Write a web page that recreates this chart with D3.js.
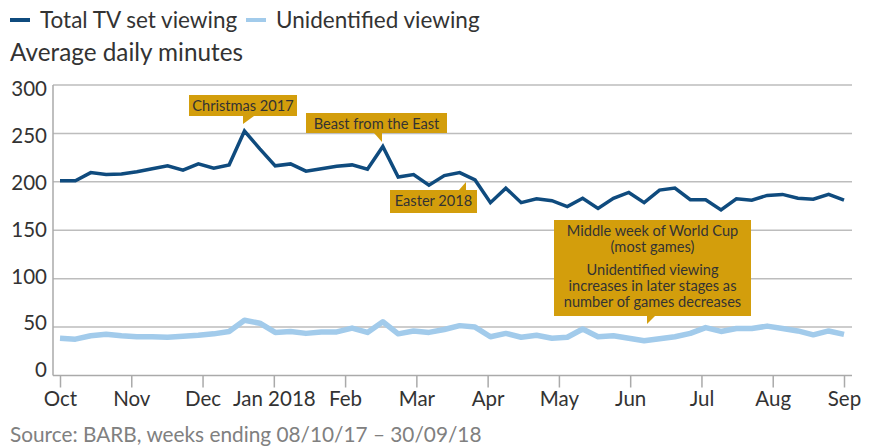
<!DOCTYPE html>
<html>
<head>
<meta charset="utf-8">
<script src="https://cdn.jsdelivr.net/npm/d3@7"></script>
<style>
    body { margin: 0; background: white; }
    text { font-family: "Source Sans Pro", Lato, "Noto Sans", sans-serif; fill: #333; }
</style>
</head>
<body>
<script>
(function () {

    // weekly averages, weeks ending 08/10/17 - 30/09/18
    let totalViewing = [201, 201, 209.5, 207.5, 208, 210.5, 213.5, 216.5, 212, 218.5, 214, 217.5,
        252.5, 234, 216.5, 218.5, 211, 213.5, 216, 217.5, 213, 236.5, 205, 207.5, 196.5, 206.5,
        209.5, 202, 178.5, 193.5, 178.5, 182.5, 180.5, 174.5, 183, 172.5, 183, 189, 178.5, 191.5,
        193.5, 181.5, 181.5, 171, 182.5, 181, 186, 187, 183, 182, 187, 181];
    let unidentifiedViewing = [38.5, 37.5, 41, 42.5, 41, 40, 40, 39.5, 40.5, 41.5, 43, 45.5,
        57, 54, 44.5, 45.5, 43.5, 45, 45, 49, 44.5, 55.5, 43, 46, 44.5, 47.5, 51.5, 50, 40, 43.5,
        39.5, 41.5, 38.5, 39.5, 48, 40, 41, 38.5, 35.8, 38, 40, 43.5, 49.5, 45.5, 48.5, 48.5, 51,
        48.5, 46, 42, 46, 42.5];
    let monthLabels = ["Oct", "Nov", "Dec", "Jan 2018", "Feb", "Mar", "Apr", "May", "Jun", "Jul", "Aug", "Sep"];
    let yTicks = [0, 50, 100, 150, 200, 250, 300];
    let noteTexts = [["Christmas 2017"], ["Beast from the East"], ["Easter 2018"],
        ["Middle week of World Cup", "(most games)", "", "Unidentified viewing", "increases in later stages as", "number of games decreases"]];

    let darkBlue = "#0f4b7e";
    let lightBlue = "#a2cbeb";
    let gold = "#d39e0c";

    let svg = d3.select("body").append("svg")
        .attr("width", 876)
        .attr("height", 448);

    let xScale = d3.scaleLinear()
        .domain([0, totalViewing.length - 1])
        .range([60, 844]);

    let monthScale = d3.scalePoint()
        .domain(monthLabels)
        .range([60, 844]);

    let yScale = d3.scaleLinear()
        .domain([0, 300])
        .range([375.5, 85]);

    // labels sit on a slightly tighter spacing than the gridlines
    let yLabelScale = d3.scaleLinear()
        .domain([0, 300])
        .range([370, 89]);

    // legend
    svg.append("line")
        .attr("x1", 10).attr("x2", 30).attr("y1", 20).attr("y2", 20)
        .attr("stroke", darkBlue).attr("stroke-width", 4);
    svg.append("text")
        .attr("x", 40).attr("y", 28)
        .attr("font-size", 22.5)
        .text("Total TV set viewing");
    svg.append("line")
        .attr("x1", 246).attr("x2", 266).attr("y1", 20).attr("y2", 20)
        .attr("stroke", lightBlue).attr("stroke-width", 4);
    svg.append("text")
        .attr("x", 276).attr("y", 28)
        .attr("font-size", 22.5)
        .text("Unidentified viewing");

    svg.append("text")
        .attr("x", 10).attr("y", 61)
        .attr("font-size", 24.3)
        .text("Average daily minutes");

    // gridlines
    svg.append("g")
        .selectAll("line")
        .data(yTicks.filter((d) => d > 0))
        .join("line")
        .attr("x1", 53).attr("x2", 852)
        .attr("y1", (d) => yScale(d)).attr("y2", (d) => yScale(d))
        .attr("stroke", "#bdbdbd")
        .attr("stroke-width", 1.5);

    svg.append("g")
        .selectAll("text")
        .data(yTicks)
        .join("text")
        .attr("x", 47)
        .attr("y", (d) => yLabelScale(d))
        .attr("dy", "0.35em")
        .attr("text-anchor", "end")
        .attr("font-size", 20.5)
        .text((d) => d);

    // y axis line
    svg.append("line")
        .attr("x1", 53).attr("x2", 53)
        .attr("y1", yScale(300)).attr("y2", yScale(0))
        .attr("stroke", "#aaa").attr("stroke-width", 1.5);

    // x axis
    let xAxis = d3.axisBottom(monthScale).tickSize(12).tickSizeOuter(0).tickPadding(4);
    let xg = svg.append("g")
        .attr("transform", "translate(0," + yScale(0) + ")")
        .call(xAxis);
    xg.select(".domain").remove();
    xg.selectAll(".tick line").attr("stroke", "#aaa").attr("stroke-width", 1.5);
    xg.selectAll(".tick text")
        .attr("font-size", 20.5)
        .attr("font-family", "\"Source Sans Pro\", Lato, \"Noto Sans\", sans-serif")
        .attr("fill", "#333");
    svg.append("line")
        .attr("x1", 53).attr("x2", 852)
        .attr("y1", yScale(0)).attr("y2", yScale(0))
        .attr("stroke", "#aaa").attr("stroke-width", 1.5);

    // lines
    let line = d3.line()
        .x((d, i) => xScale(i))
        .y((d) => yScale(d));

    svg.append("path")
        .datum(unidentifiedViewing)
        .attr("d", line)
        .attr("fill", "none")
        .attr("stroke", lightBlue)
        .attr("stroke-width", 5.5)
        .attr("stroke-linejoin", "round");

    svg.append("path")
        .datum(totalViewing)
        .attr("d", line)
        .attr("fill", "none")
        .attr("stroke", darkBlue)
        .attr("stroke-width", 3.5);

    // annotation boxes: x0, y0, width, height, pointer (three points)
    let boxes = [
        {x: 189, y: 95, w: 108, h: 21, ptr: [[243, 116], [254, 116], [243, 124]]},
        {x: 306, y: 113, w: 141, h: 20, ptr: [[374, 133], [382, 133], [382, 142]]},
        {x: 390, y: 190, w: 87, h: 23, ptr: [[459, 190], [466, 190], [466, 182]]},
        {x: 554, y: 220, w: 197, h: 96, ptr: [[647, 316], [655, 316], [647, 324]]}
    ];

    boxes.forEach((b, k) => {
        svg.append("rect")
            .attr("x", b.x).attr("y", b.y)
            .attr("width", b.w).attr("height", b.h)
            .attr("fill", gold);
        svg.append("polygon")
            .attr("points", b.ptr.map((p) => p.join(",")).join(" "))
            .attr("fill", gold);
        let lines = noteTexts[k];
        let ly = b.y + 15.5;
        lines.forEach((t) => {
            if (t == "") { ly += 7; return; }
            svg.append("text")
                .attr("x", b.x + b.w / 2)
                .attr("y", ly)
                .attr("text-anchor", "middle")
                .attr("font-size", 14.6)
                .attr("fill", "#3a3a3a")
                .text(t);
            ly += 16;
        });
    });

    svg.append("text")
        .attr("x", 10).attr("y", 442)
        .attr("font-size", 20.8)
        .style("fill", "#808080")
        .text("Source: BARB, weeks ending 08/10/17 \u2013 30/09/18");
})();
</script>
</body>
</html>
